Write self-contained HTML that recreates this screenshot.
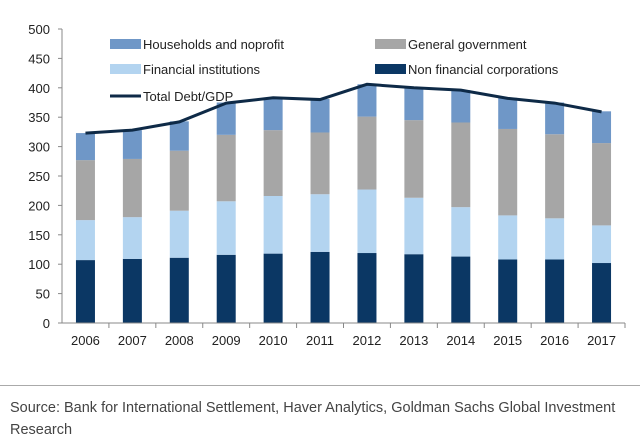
<!DOCTYPE html>
<html><head><meta charset="utf-8"><style>
body{margin:0;background:#fff;font-family:"Liberation Sans",sans-serif;}
#wrap{position:relative;width:640px;height:444px;overflow:hidden}
#src{position:absolute;left:10px;top:397px;font-size:14.5px;line-height:22px;color:#444;width:630px}
#rule{position:absolute;left:0;top:385px;width:640px;height:1px;background:#aaa}
</style></head><body>
<div id="wrap">
<svg id="chart" width="640" height="380"></svg>
<div id="rule"></div>
<div id="src">Source: Bank for International Settlement, Haver Analytics, Goldman Sachs Global Investment Research</div>
</div>
<script>
const years=["2006","2007","2008","2009","2010","2011","2012","2013","2014","2015","2016","2017"];
const nonFinancial=[107,109,111,116,118,121,119,117,113,108,108,102];
const financial=[68,71,80,91,98,98,108,96,84,75,70,64];
const government=[102,99,102,113,112,105,124,132,144,147,143,140];
const households=[46,49,50,55,55,57,55,55,55,53,54,54];
const totalDebt=[323,328,342,374,383,380,406,400,396,382,374,359];
const yTicks=[0,50,100,150,200,250,300,350,400,450,500];
const NS="http://www.w3.org/2000/svg";
const svg=document.getElementById('chart');
const x0=62,x1=625,y0=323,y1=29;
const bw=(x1-x0)/years.length;
const y=v=>y0-(v/500)*(y0-y1);
const xc=i=>x0+bw*(i+0.5);
function mk(t,a){const e=document.createElementNS(NS,t);for(const k in a)e.setAttribute(k,a[k]);svg.appendChild(e);return e;}
let e;
yTicks.forEach(v=>{
 e=mk('text',{x:50,y:y(v)+5,'text-anchor':'end','font-size':13,fill:'#222'});e.textContent=v;
 
 
 e=mk('line',{x1:x0-4,x2:x0,y1:y(v),y2:y(v),stroke:'#888'});
 
 
});
const series=[[nonFinancial,'#0b3764','non-financial'],[financial,'#b3d4f0','financial'],[government,'#a6a6a6','government'],[households,'#6f97c7','households']];
years.forEach((yr,i)=>{
 let base=0;
 series.forEach(([arr,c,n])=>{
  e=mk('rect',{x:xc(i)-9.5,width:19,y:y(base+arr[i]),height:y(base)-y(base+arr[i]),fill:c});
  
  
  base+=arr[i];
 });
 e=mk('text',{x:xc(i),y:345,'text-anchor':'middle','font-size':13,fill:'#222'});e.textContent=yr;
 
 
 e=mk('line',{x1:x0+bw*(i+1),x2:x0+bw*(i+1),y1:y0,y2:y0+5,stroke:'#888'});
 
 
});
e=mk('line',{x1:x0,x2:x0,y1:y1,y2:y0,stroke:'#888'});


e=mk('line',{x1:x0,x2:x1,y1:y0,y2:y0,stroke:'#888'});


e=mk('polyline',{points:totalDebt.map((v,i)=>xc(i)+','+y(v)).join(' '),fill:'none',stroke:'#0e2a47','stroke-width':3});


const legend=[['Households and noprofit','#6f97c7',110,44],['General government','#a6a6a6',375,44],['Financial institutions','#b3d4f0',110,69],['Non financial corporations','#0b3764',375,69]];
legend.forEach(([t,c,lx,ly])=>{
 e=mk('rect',{x:lx,y:ly-5,width:31,height:10,fill:c});
 
 
 e=mk('text',{x:lx+33,y:ly+5,'font-size':13,fill:'#222'});e.textContent=t;
 
 
});
e=mk('line',{x1:110,x2:141,y1:96,y2:96,stroke:'#0e2a47','stroke-width':3});


e=mk('text',{x:143,y:101,'font-size':13,fill:'#222'});e.textContent='Total Debt/GDP';


</script>
</body></html>
